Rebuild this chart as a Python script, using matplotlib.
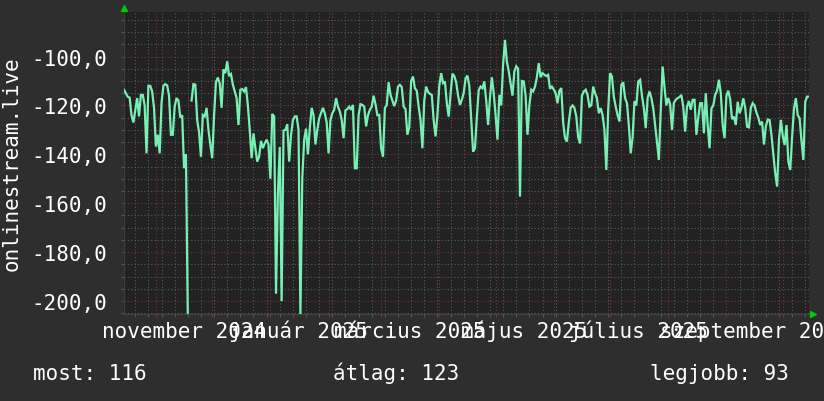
import numpy as np
import pandas as pd
import matplotlib
matplotlib.use("Agg")
import matplotlib.pyplot as plt
import matplotlib.dates as mdates
from matplotlib.ticker import MultipleLocator, FuncFormatter

# ---------------- data ----------------
start_date = "2024-10-15"
values = [
    -113.6, -115.0, -116.5, -116.8, -124.0, -127.0, -122.0, -117.0, -124.5, -115.7,
    -115.7, -120.0, -139.6, -112.0, -112.0, -114.3, -121.0, -136.8, -132.0, -139.6,
    -119.0, -112.0, -111.3, -111.8, -116.0, -132.0, -132.0, -120.5, -117.0, -118.0,
    -125.0, -124.0, -145.7, -140.0, -206.0, np.nan, -118.0, -111.3, -111.5, -126.0,
    -131.0, -141.0, -123.9, -124.5, -121.0, -130.0, -136.0, -141.6, -124.0, -110.5,
    -108.6, -111.0, -121.0, -105.3, -106.8, -102.0, -108.0, -107.2, -111.5, -114.3,
    -117.0, -128.0, -113.6, -113.3, -114.3, -112.5, -120.0, -130.0, -141.6, -131.4,
    -137.5, -143.0, -140.9, -134.5, -137.5, -135.5, -134.0, -136.0, -150.0, -123.5,
    -124.5, -197.0, -156.0, -137.0, -200.0, -130.3, -130.0, -127.7, -143.0, -132.0,
    -126.0, -124.5, -124.5, -130.0, -206.0, -149.7, -134.0, -129.5, -140.0, -129.3,
    -121.0, -124.0, -136.0, -130.0, -125.3, -123.2, -121.0, -123.2, -127.0, -139.6,
    -126.0, -123.2, -121.8, -117.0, -120.5, -122.5, -126.0, -133.4, -122.0, -121.5,
    -120.5, -121.8, -119.8, -145.7, -145.7, -124.0, -119.5, -119.8, -120.5, -128.6,
    -124.0, -121.8, -120.5, -116.0, -119.5, -124.0, -123.9, -137.5, -141.0, -121.1,
    -119.8, -110.5, -115.7, -118.0, -120.3, -118.0, -112.3, -111.6, -112.5, -120.5,
    -121.5, -132.0, -129.0, -110.0, -108.2, -113.0, -114.0, -120.5, -126.0, -137.5,
    -118.0, -112.3, -114.5, -115.3, -115.7, -126.0, -132.7, -124.0, -112.0, -106.8,
    -110.9, -110.2, -119.0, -124.6, -115.5, -107.0, -108.0, -110.5, -116.0, -119.8,
    -117.7, -115.0, -109.0, -107.8, -112.0, -125.2, -138.9, -137.5, -125.0, -113.8,
    -112.3, -113.0, -110.2, -118.0, -128.0, -117.0, -108.5, -115.0, -124.0, -134.0,
    -115.7, -120.0, -103.4, -93.2, -102.0, -106.0, -111.0, -116.0, -106.1, -104.0,
    -105.0, -157.3, -110.0, -110.2, -116.0, -132.0, -120.0, -113.6, -114.3, -112.3,
    -108.5, -102.7, -108.5, -106.8, -107.5, -108.0, -107.5, -113.2, -112.3, -113.5,
    -115.0, -119.1, -114.0, -112.9, -127.0, -133.4, -134.8, -127.0, -121.0, -120.0,
    -121.0, -124.5, -133.0, -135.5, -116.0, -114.3, -113.6, -115.7, -120.5, -120.0,
    -112.3, -115.0, -117.0, -123.2, -121.1, -123.9, -130.0, -146.4, -122.0, -106.8,
    -108.2, -116.5, -120.5, -124.0, -126.6, -111.6, -110.5, -117.0, -119.1, -128.0,
    -139.6, -133.0, -118.4, -120.0, -110.2, -109.5, -116.0, -121.1, -129.3, -117.0,
    -114.3, -117.0, -121.1, -128.0, -135.0, -142.3, -122.0, -104.1, -112.5, -120.0,
    -117.0, -119.5, -130.0, -119.0, -117.7, -117.0, -116.6, -115.7, -120.5, -130.7,
    -120.5, -118.2, -121.8, -117.7, -117.7, -132.0, -125.0, -119.1, -119.1, -131.4,
    -115.0, -128.0, -137.5, -121.2, -120.0, -115.7, -114.0, -109.5, -115.0, -128.0,
    -133.4, -116.0, -114.0, -117.5, -125.6, -124.6, -128.0, -118.5, -123.2, -121.0,
    -117.1, -121.0, -128.7, -129.0, -121.0, -119.1, -120.0, -123.0, -125.0, -128.0,
    -126.6, -136.0, -128.5, -125.8, -126.0, -132.1, -140.0, -147.8, -153.2, -134.0,
    -125.9, -132.5, -136.2, -128.0, -143.0, -146.4, -133.0, -121.2, -117.0, -124.0,
    -125.3, -134.5, -142.3, -118.5, -116.4, -116.4,
]
label_dates = ["2024-11-16", "2025-01-16", "2025-03-16", "2025-05-16", "2025-07-16", "2025-09-16"]
label_texts = ["november 2024", "január 2025", "március 2025", "május 2025", "július 2025", "szeptember 2025"]
y_label = "onlinestream.live"
summary_names = ["most", "átlag", "legjobb"]
summary_values = [116, 123, 93]

# ---------------- style ----------------
BG = "#2e2e2e"
PLOT_BG = "#222222"
LINE = "#78f0b4"
MINOR = "#5a5a5a"
MAJOR = "#7a3434"
FONT = "DejaVu Sans Mono"
FS = 15

W, H = 824, 402
fig = plt.figure(figsize=(W / 100, H / 100), dpi=100, facecolor=BG)
L, R, T, B = 124, 809, 13, 315
ax = fig.add_axes([L / W, 1 - B / H, (R - L) / W, (B - T) / H])
ax.set_facecolor(PLOT_BG)

dates = pd.date_range(start_date, periods=len(values), freq="D")
ax.plot(dates, values, color=LINE, lw=1.6, solid_joinstyle="miter", zorder=3)

ax.set_xlim(dates[0], dates[-1])
ax.set_ylim(-205.3, -81.8)

# y axis
ax.yaxis.set_major_locator(MultipleLocator(20))
ax.yaxis.set_minor_locator(MultipleLocator(5))
ax.yaxis.set_major_formatter(FuncFormatter(lambda v, p: f"{v:.1f}".replace(".", ",")))

# x axis: month starts (major), weeks (minor)
ax.xaxis.set_major_locator(mdates.MonthLocator(bymonthday=1))
ax.xaxis.set_minor_locator(mdates.WeekdayLocator(byweekday=mdates.MO))
ax.xaxis.set_major_formatter(plt.NullFormatter())

dot = (0, (1, 2))
ax.grid(which="minor", color=MINOR, lw=0.8, ls=dot, zorder=1)
ax.grid(which="major", color=MAJOR, lw=0.8, ls=dot, zorder=1)

ax.tick_params(axis="both", which="both", direction="out", length=2.5, width=0.8)
ax.tick_params(axis="both", which="major", color=MAJOR)
ax.tick_params(axis="both", which="minor", color=MINOR)
ax.tick_params(axis="y", which="major", labelcolor="white", labelsize=FS, pad=10)
for lab in ax.get_yticklabels():
    lab.set_fontfamily(FONT)

for s in ["top", "right"]:
    ax.spines[s].set_visible(False)
ax.spines["left"].set_color("#3c3c3c")
ax.spines["bottom"].set_color("#444444")

# x labels (centered mid-month)
xtr = ax.get_xaxis_transform()
for d, t in zip(pd.to_datetime(label_dates), label_texts):
    ax.text(d, -0.076, t, transform=xtr, ha="center", va="baseline",
            color="white", fontsize=FS, family=FONT, clip_on=False)

# axis arrows
ax.plot([0], [1.012], marker="^", color="#00cc00", ms=4, transform=ax.transAxes, clip_on=False)
ax.plot([1.006], [0], marker=">", color="#00cc00", ms=4, transform=ax.transAxes, clip_on=False)

# y label
fig.text(12 / W, 1 - 164 / H, y_label, rotation=90, ha="center", va="center",
         color="white", fontsize=FS, family=FONT)

# summary line
xs = [33, 333, 650]
for x, n, v in zip(xs, summary_names, summary_values):
    fig.text(x / W, 1 - 380 / H, f"{n}: {v}", ha="left", va="baseline",
             color="white", fontsize=FS, family=FONT)

fig.savefig("out.png", dpi=100, facecolor=BG)
